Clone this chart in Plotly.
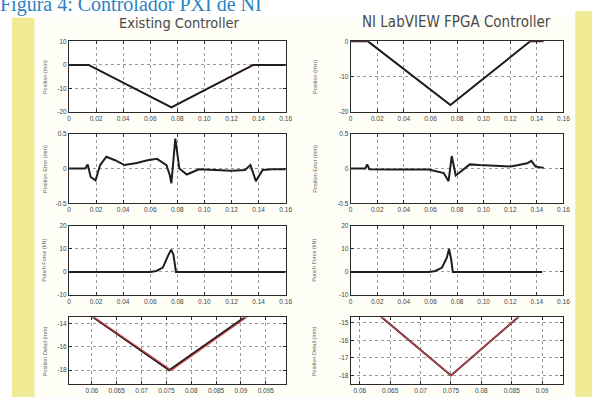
import plotly.graph_objects as go

W, H = 599, 400

# ---------------- data ----------------
title_text = "Figura 4: Controlador PXI de NI"
col_titles = ["Existing Controller", "NI LabVIEW FPGA Controller"]
y_titles = ["Position (mm)", "Position Error (mm)", "Punch Force (kN)", "Position Detail (mm)"]

x_ticks = [0, 0.02, 0.04, 0.06, 0.08, 0.10, 0.12, 0.14, 0.16]
x_ticktext = ["0", "0.02", "0.04", "0.06", "0.08", "0.10", "0.12", "0.14", "0.16"]

# Existing controller
ex_pos_t = [0, 0.0145, 0.0756, 0.136, 0.16]
ex_pos = [0, 0, -18, 0, 0]
ex_ref_t = [0, 0.0140, 0.0760, 0.1365, 0.16]
ex_ref = [0, 0, -18, 0, 0]

ex_err_t = [0, 0.012, 0.0138, 0.016, 0.0196, 0.023, 0.0276, 0.034, 0.041, 0.050, 0.058, 0.065,
            0.072, 0.0745, 0.0756, 0.077, 0.0785, 0.0815, 0.087, 0.096, 0.108, 0.120, 0.130,
            0.134, 0.138, 0.143, 0.150, 0.160]
ex_err = [0, 0, 0.06, -0.12, -0.17, 0.05, 0.17, 0.12, 0.05, 0.08, 0.12, 0.14,
          0.05, -0.1, -0.21, 0.1, 0.43, 0.0, -0.085, -0.01, -0.02, -0.03, -0.02,
          0.05, -0.18, -0.02, -0.01, -0.01]

ex_force_t = [0, 0.060, 0.0645, 0.0693, 0.073, 0.0754, 0.0771, 0.079, 0.16]
ex_force = [0, 0, 0.4, 1.9, 6.9, 9.7, 7.6, 0, 0]

# NI LabVIEW FPGA controller
ni_pos_t = [0, 0.013, 0.075, 0.135, 0.145]
ni_pos = [0, 0, -18, 0, 0]
ni_ref_t = [0, 0.013, 0.075, 0.135, 0.145]
ni_ref = [0, 0, -18, 0, 0]

ni_err_t = [0, 0.011, 0.0124, 0.014, 0.030, 0.0587, 0.070, 0.0736, 0.076, 0.079, 0.0896,
            0.097, 0.1205, 0.1328, 0.1358, 0.139, 0.1452]
ni_err = [0, 0, 0.06, -0.01, -0.015, -0.015, -0.065, -0.18, 0.18, -0.1, 0.06,
          0.05, 0.03, 0.075, 0.11, 0.03, 0.01]

ni_force_t = [0, 0.0588, 0.0637, 0.0687, 0.0723, 0.074, 0.0756, 0.0768, 0.144]
ni_force = [0, 0, 0.4, 1.9, 6.2, 10, 5.4, 0, 0]

# detail-axis ticks
ex_det_xticks = [0.055, 0.06, 0.065, 0.07, 0.075, 0.08, 0.085, 0.09, 0.095]
ex_det_yticks = [-14, -16, -18]
ni_det_xticks = [0.06, 0.065, 0.07, 0.075, 0.08, 0.085, 0.09]
ni_det_yticks = [-15, -16, -17, -18]

# ---------------- layout helpers ----------------
def px_x(x):
    return x / W

def px_y(y):
    return 1 - y / H

cols = [(68, 288), (354, 570)]
rows = [(38, 110), (132, 203), (226, 296), (319, 387)]

fig = go.Figure()

AX = dict(showline=True, linecolor="#2a2a2a", linewidth=1, mirror="ticks",
          ticks="inside", ticklen=3, tickcolor="#2a2a2a",
          showgrid=True, gridcolor="#9a9a9a", griddash="dot", gridwidth=1,
          zeroline=False, tickfont=dict(size=6.5, color="#444", family="Liberation Sans"))

def fmt(v):
    return "%g" % v

panels = [
    (0, 0, [-20, 10], [-20, -10, 0, 10], [0, 0.16], x_ticks, x_ticktext,
     [(ex_ref_t, ex_ref, "ref"), (ex_pos_t, ex_pos, "meas")]),
    (1, 0, [-20, 0], [-20, -10, 0], [0, 0.16], x_ticks, x_ticktext,
     [(ni_ref_t, ni_ref, "ref"), (ni_pos_t, ni_pos, "meas")]),
    (0, 1, [-0.5, 0.5], [-0.5, 0, 0.5], [0, 0.16], x_ticks, x_ticktext,
     [(ex_err_t, ex_err, "meas")]),
    (1, 1, [-0.5, 0.5], [-0.5, 0, 0.5], [0, 0.16], x_ticks, x_ticktext,
     [(ni_err_t, ni_err, "meas")]),
    (0, 2, [-10, 20], [-10, 0, 10, 20], [0, 0.16], x_ticks, x_ticktext,
     [(ex_force_t, ex_force, "meas")]),
    (1, 2, [-10, 20], [-10, 0, 10, 20], [0, 0.16], x_ticks, x_ticktext,
     [(ni_force_t, ni_force, "meas")]),
    (0, 3, [-19.2, -13.5], ex_det_yticks, [0.0554, 0.0990], ex_det_xticks,
     [fmt(v) for v in ex_det_xticks],
     [(ex_pos_t, ex_pos, "meas"), (ex_ref_t, ex_ref, "ref")]),
    (1, 3, [-18.5, -14.7], ni_det_yticks, [0.0585, 0.0935], ni_det_xticks,
     [fmt(v) for v in ni_det_xticks],
     [(ni_pos_t, ni_pos, "meas"), (ni_ref_t, ni_ref, "ref")]),
]

for i, (c, r, yr, yt, xr, xt, xtt, trs) in enumerate(panels, start=1):
    xa = "x" if i == 1 else "x%d" % i
    ya = "y" if i == 1 else "y%d" % i
    x0, x1 = cols[c]
    y0, y1 = rows[r]
    fig.update_layout(**{
        ("xaxis" if i == 1 else "xaxis%d" % i): dict(
            AX, domain=[px_x(x0), px_x(x1)], anchor=ya, range=xr,
            tickvals=xt, ticktext=xtt),
        ("yaxis" if i == 1 else "yaxis%d" % i): dict(
            AX, domain=[px_y(y1), px_y(y0)], anchor=xa, range=yr,
            tickvals=yt, ticktext=[fmt(v) for v in yt]),
    })
    for (tx, ty, kind) in trs:
        if kind == "ref":
            line = dict(color="#d0424a", width=1.2)
        else:
            line = dict(color="#1e1e1e", width=2)
        fig.add_trace(go.Scatter(x=tx, y=ty, mode="lines", line=line,
                                 xaxis=xa, yaxis=ya, showlegend=False,
                                 hoverinfo="skip", cliponaxis=True))

shapes = [
    dict(type="rect", xref="paper", yref="paper", x0=px_x(33), x1=px_x(582),
         y0=0, y1=px_y(14), fillcolor="#fefef7", line_width=0, layer="below"),
    dict(type="rect", xref="paper", yref="paper", x0=px_x(10), x1=px_x(33),
         y0=0, y1=px_y(14), fillcolor="#f1ea95", line_width=0, layer="below"),
    dict(type="rect", xref="paper", yref="paper", x0=px_x(582), x1=1,
         y0=0, y1=px_y(7), fillcolor="#f1ea95", line_width=0, layer="below"),
]
for c in cols:
    for r in rows:
        shapes.append(dict(type="rect", xref="paper", yref="paper",
                           x0=px_x(c[0]), x1=px_x(c[1]), y0=px_y(r[1]), y1=px_y(r[0]),
                           fillcolor="white", line_width=0, layer="below"))

annotations = [
    dict(text=title_text, xref="paper", yref="paper", x=0, y=px_y(12),
         xanchor="left", yanchor="bottom", showarrow=False, yshift=-2, xshift=-4,
         font=dict(family="Liberation Serif", size=20, color="#2a82c4")),
    dict(text=col_titles[0], xref="paper", yref="paper", x=px_x(180), y=px_y(19),
         xanchor="center", yanchor="middle", showarrow=False,
         font=dict(family="DejaVu Sans Condensed", size=14.5, color="#4a4a4a")),
    dict(text=col_titles[1], xref="paper", yref="paper", x=px_x(461), y=px_y(18),
         xanchor="center", yanchor="middle", showarrow=False,
         font=dict(family="DejaVu Sans Condensed", size=15, color="#4a4a4a")),
]
for c, xpos in zip(range(2), [43, 317]):
    for r, yt in enumerate(y_titles):
        annotations.append(dict(text=yt, xref="paper", yref="paper", x=px_x(xpos),
                                y=px_y((rows[r][0] + rows[r][1]) / 2), textangle=-90,
                                xanchor="center", yanchor="middle", showarrow=False,
                                font=dict(family="Liberation Sans", size=5.5, color="#666")))

fig.update_layout(width=W, height=H, margin=dict(l=0, r=0, t=0, b=0),
                  paper_bgcolor="white", plot_bgcolor="white",
                  shapes=shapes, annotations=annotations, showlegend=False)

fig.write_html("out.html", config={"displayModeBar": False},
               post_script="document.body.style.margin='0';document.body.style.overflow='hidden';")
